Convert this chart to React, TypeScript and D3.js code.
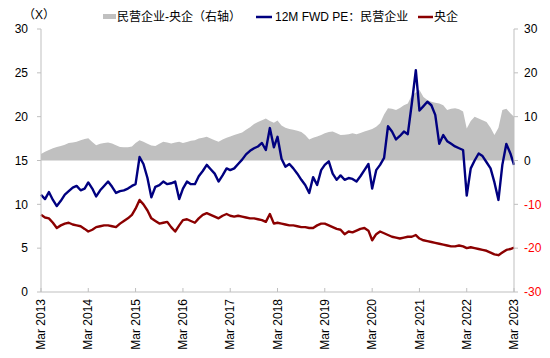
import React from 'react';
import * as d3 from 'd3';

// monthly, Mar 2013 .. Mar 2023
const months = d3.timeMonth.range(new Date(2013, 2, 1), new Date(2023, 3, 1));

// 12M FWD PE: private enterprises (left axis)
const privatePE = [
  11.1, 10.6, 11.4, 10.5, 9.8, 10.4, 11.1, 11.5, 11.9, 12.1, 11.6, 11.8,
  12.5, 11.8, 10.9, 11.6, 12.1, 12.6, 12.0, 11.3, 11.5, 11.6, 11.8, 12.1,
  12.3, 15.4, 14.6, 13.0, 10.8, 12.0, 12.2, 12.6, 12.3, 12.4, 12.6, 10.6,
  11.8, 12.6, 12.3, 12.3, 13.2, 13.8, 14.5, 14.0, 13.5, 12.6, 13.3, 14.1,
  13.9, 14.1, 14.6, 15.1, 15.7, 16.1, 16.4, 16.6, 17.0, 16.2, 18.7, 16.5,
  17.7, 15.2, 14.3, 14.6, 14.1, 13.5, 12.8, 12.2, 11.3, 13.1, 12.2, 13.9,
  14.5, 14.9, 13.5, 12.8, 13.3, 12.8, 13.0, 12.9, 12.6, 13.2, 13.9, 14.6,
  11.8, 13.9, 14.5, 15.3, 18.9, 18.3, 17.4, 17.8, 18.3, 18.0, 21.5, 25.3,
  20.7, 21.2, 21.7, 21.3, 20.2, 16.9, 17.9, 17.2, 16.9, 16.6, 16.4, 16.2,
  11.0, 14.1, 15.0, 15.8, 15.5, 14.8, 14.1, 12.5, 10.5, 14.5, 16.9, 15.8,
  14.5,
];

// 12M FWD PE: central SOEs (left axis)
const soePE = [
  8.8, 8.5, 8.4, 7.9, 7.3, 7.6, 7.8, 7.9, 7.7, 7.6, 7.5, 7.2,
  6.9, 7.1, 7.4, 7.5, 7.6, 7.6, 7.5, 7.4, 7.8, 8.1, 8.4, 8.8,
  9.5, 10.5, 10.0, 9.3, 8.4, 8.1, 7.8, 7.9, 8.0, 7.4, 6.9, 7.6,
  8.2, 8.3, 8.1, 7.9, 8.4, 8.8, 9.0, 8.8, 8.6, 8.4, 8.7, 8.9,
  8.7, 8.6, 8.7, 8.6, 8.5, 8.4, 8.4, 8.3, 8.2, 8.0, 8.9, 7.8,
  7.9, 7.8, 7.7, 7.6, 7.6, 7.5, 7.4, 7.4, 7.3, 7.3, 7.6, 7.8,
  7.8, 7.6, 7.4, 7.2, 7.1, 6.6, 6.9, 6.8, 7.0, 7.2, 7.3, 7.0,
  5.9, 6.6, 6.9, 6.7, 6.5, 6.3, 6.2, 6.1, 6.2, 6.3, 6.3, 6.5,
  6.1, 5.9, 5.8, 5.7, 5.6, 5.5, 5.4, 5.3, 5.2, 5.2, 5.3, 5.2,
  5.0, 5.1, 5.0, 4.9, 4.8, 4.7, 4.5, 4.3, 4.2, 4.5, 4.8, 4.9,
  5.05,
];

// spread private - SOE (right axis)
const spread = [
  1.5, 2.0, 2.4, 2.8, 3.1, 3.3, 3.6, 4.0, 4.1, 4.3, 4.6, 4.9,
  5.1, 4.2, 3.5, 3.8, 4.0, 4.1, 3.9, 3.5, 3.1, 3.0, 3.0, 3.2,
  4.0, 4.6, 4.3, 3.8, 3.4, 3.3, 3.8, 4.3, 4.1, 3.9, 4.1, 4.3,
  4.0, 4.2, 4.5, 4.6, 5.0, 5.2, 5.4, 5.0, 4.6, 4.3, 4.8, 5.2,
  5.5, 5.8, 6.1, 6.4, 7.0, 7.6, 8.3, 8.8, 9.2, 9.6, 9.0, 8.6,
  9.1, 8.0, 7.5, 7.2, 7.0, 6.8, 6.5, 5.8, 4.8, 5.2, 5.5, 5.8,
  6.2, 6.5, 6.6, 6.2, 5.8, 5.9, 6.0, 6.2, 6.0, 6.3, 6.6, 6.9,
  7.2, 7.7, 8.5, 10.5, 11.9, 11.8, 11.5, 12.0, 12.6, 13.0, 14.9, 15.5,
  16.1, 14.5, 13.8, 13.4, 13.2, 13.0, 12.6, 11.5, 11.8, 11.9, 11.7, 11.2,
  7.3, 9.0, 10.0, 9.6, 9.2, 8.8, 7.5, 5.8, 7.5, 11.5, 11.8, 10.8,
  10.0,
];

const leftTicks = [0, 5, 10, 15, 20, 25, 30];
const rightTicks = [-30, -20, -10, 0, 10, 20, 30];
const tickYears = d3.range(2013, 2024);

const W = 550;
const H = 358;
const FONT = '"Liberation Sans", Arial, "Noto Sans CJK SC", sans-serif';

export default function App() {
  const left = 41;
  const right = 514;
  const top = 29;
  const bottom = 292;

  const x = d3.scaleTime()
    .domain([months[0], months[months.length - 1]])
    .range([left, right]);
  const yL = d3.scaleLinear().domain([0, 30]).range([bottom, top]);
  const yR = d3.scaleLinear().domain([-30, 30]).range([bottom, top]);

  const area = d3.area<number>()
    .x((_, i) => x(months[i]))
    .y0(yR(0))
    .y1(d => yR(d));
  const line = d3.line<number>()
    .x((_, i) => x(months[i]))
    .y(d => yL(d));

  const tickDates = tickYears.map(yr => new Date(yr, 2, 1));

  return (
    <svg width={W} height={H} style={{ position: 'absolute', left: 0, top: 0, background: '#fff' }}
      fontFamily={FONT} fontSize={12}>
      {/* spread area */}
      <path d={area(spread) || ''} fill="#c0c0c0" />
      <path d={line(privatePE) || ''} fill="none" stroke="#000080" strokeWidth={2.4} strokeLinejoin="round" />
      <path d={line(soePE) || ''} fill="none" stroke="#8b0000" strokeWidth={2.4} strokeLinejoin="round" />

      {/* axes */}
      <g stroke="#bfbfbf" strokeWidth={1}>
        <line x1={left} x2={left} y1={top} y2={bottom} />
        <line x1={right} x2={right} y1={top} y2={bottom} />
        <line x1={left} x2={right} y1={bottom} y2={bottom} />
        {leftTicks.map(t => (
          <line key={'l' + t} x1={left - 4} x2={left} y1={yL(t)} y2={yL(t)} />
        ))}
        {rightTicks.map(t => (
          <line key={'r' + t} x1={right} x2={right + 4} y1={yR(t)} y2={yR(t)} />
        ))}
        {tickDates.map((d, i) => (
          <line key={'x' + i} x1={x(d)} x2={x(d)} y1={bottom - 4} y2={bottom} />
        ))}
      </g>

      {leftTicks.map(t => (
        <text key={'lt' + t} x={28} y={yL(t)} dy="0.35em" textAnchor="end" fill="#000">{t}</text>
      ))}
      {rightTicks.map(t => (
        <text key={'rt' + t} x={524} y={yR(t)} dy="0.35em" textAnchor="start"
          fill={t < 0 ? '#ff0000' : '#000'}>{t}</text>
      ))}
      {tickDates.map((d, i) => (
        <text key={'xt' + i} transform={`translate(${x(d)},${bottom + 7}) rotate(-90)`}
          dy="0.35em" textAnchor="end" fill="#000">{d3.timeFormat('%b %Y')(d)}</text>
      ))}

      <text x={23} y={19} fill="#000">（X）</text>

      {/* legend */}
      <rect x={103} y={14} width={13} height={5} fill="#c0c0c0" />
      <text x={117} y={21} fill="#000">民营企业-央企（右轴）</text>
      <line x1={256} x2={272} y1={17} y2={17} stroke="#000080" strokeWidth={2.5} />
      <text x={275} y={21} fill="#000">12M FWD PE：民营企业</text>
      <line x1={418} x2={433} y1={17} y2={17} stroke="#8b0000" strokeWidth={2.5} />
      <text x={434} y={21} fill="#000">央企</text>
    </svg>
  );
}
